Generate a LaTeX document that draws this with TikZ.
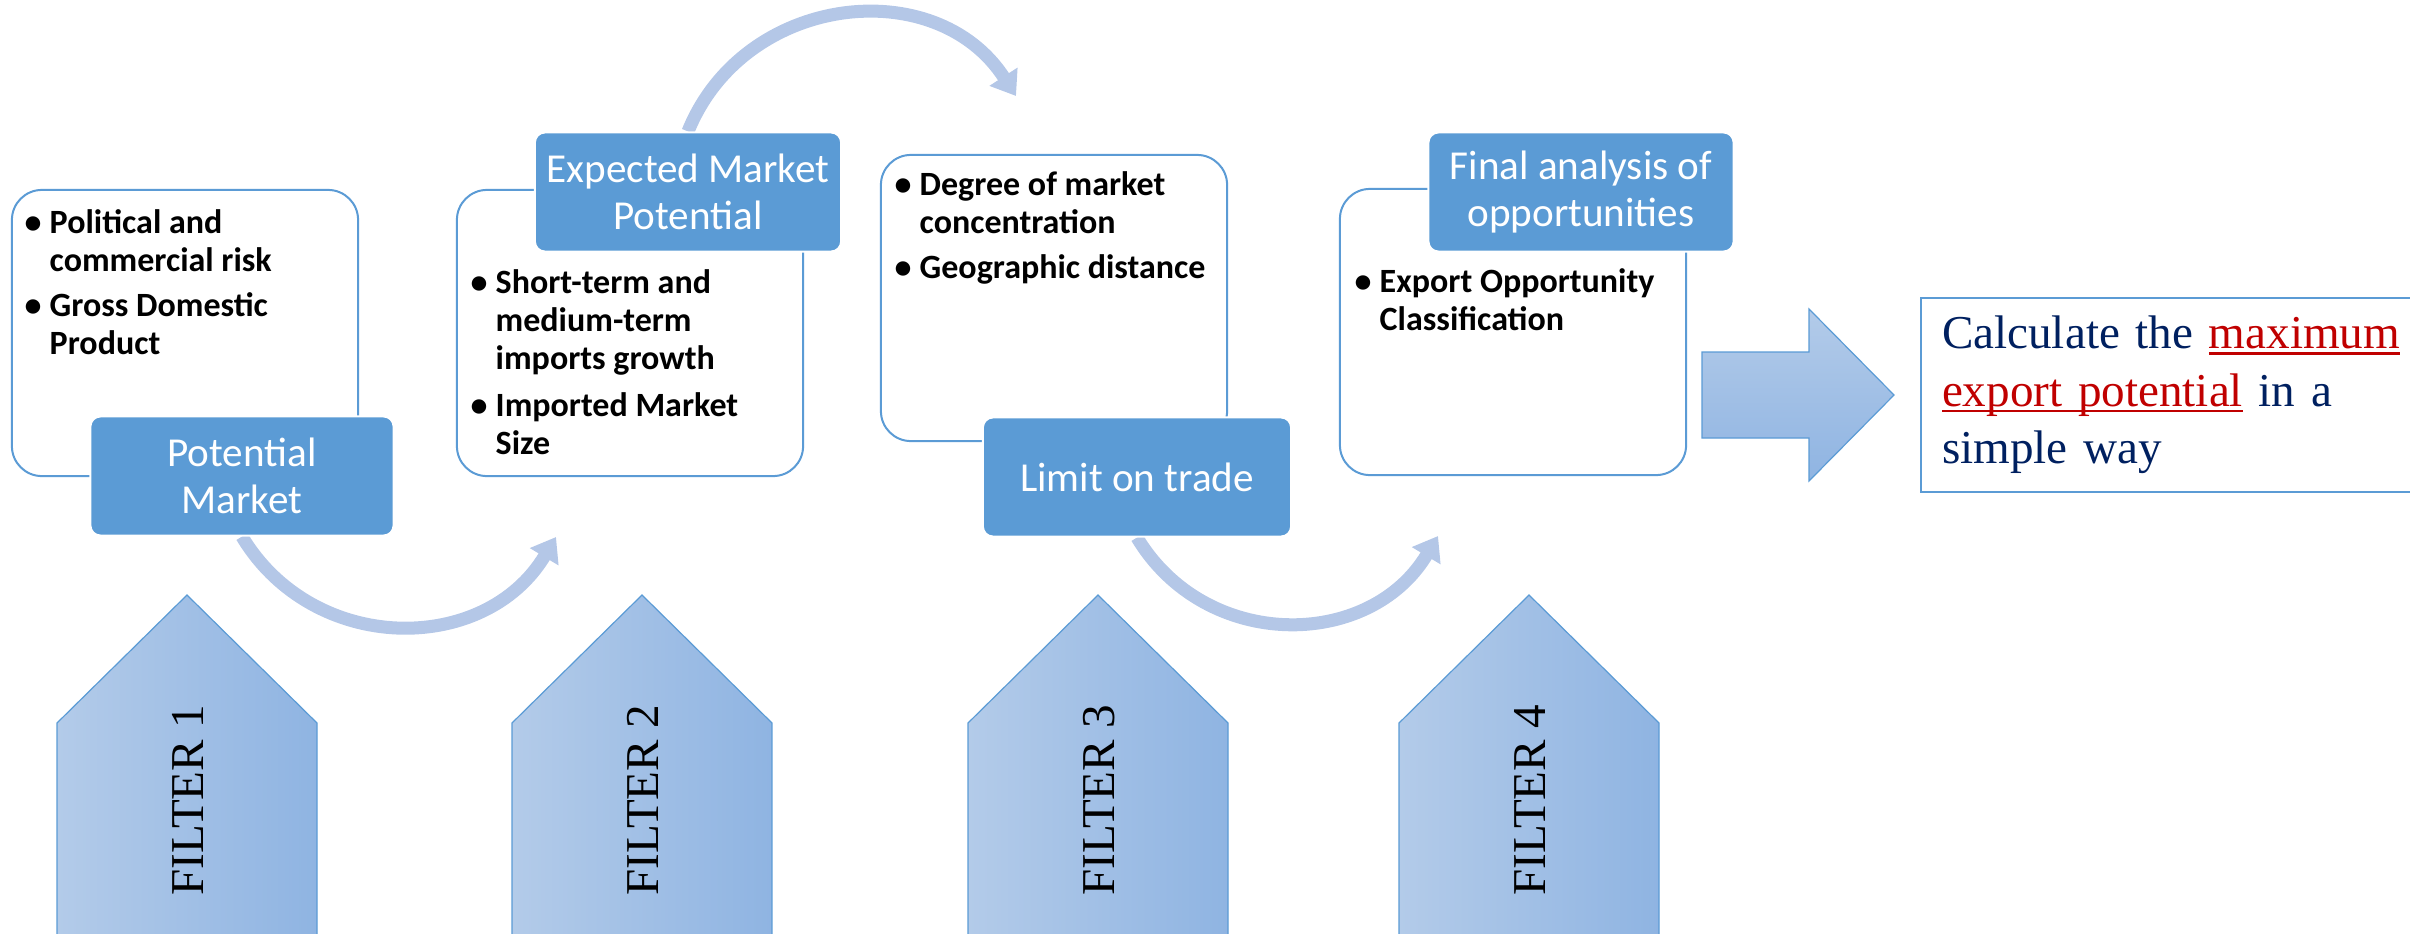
\documentclass[tikz,border=0pt]{standalone}
\usepackage{fontspec}
\setmainfont{Liberation Serif}
\newfontfamily\calibri{Carlito}
\usetikzlibrary{arrows.meta,backgrounds}

\definecolor{hdblue}{HTML}{5B9BD5}
\definecolor{arcblue}{HTML}{B4C7E7}
\definecolor{fltlight}{HTML}{B3CBE9}
\definecolor{fltdark}{HTML}{8FB4E2}
\definecolor{navytxt}{HTML}{002060}
\definecolor{redtxt}{HTML}{C00000}

\newcommand{\bul}{\makebox[0.25cm][l]{\textbullet}}
\newcommand{\ind}{\hspace*{0.25cm}}
\newcommand{\redul}[1]{\leavevmode{\color{redtxt}\setbox0\hbox{#1}\rlap{\rule[-1.7pt]{\wd0}{0.6pt}}\box0}}

\tikzset{
  panel/.style={draw=hdblue, line width=0.02cm, fill=white, rounded corners=0.3cm,
    minimum width=3.46cm, minimum height=2.86cm},
  head/.style={fill=hdblue, draw=white, line width=0.02cm, rounded corners=0.1cm,
    text=white, align=center, minimum height=1.19cm,
    font=\calibri\fontsize{11.7pt}{13.2pt}\selectfont},
  pts/.style={anchor=north west, align=left, inner sep=0pt,
    font=\calibri\bfseries\fontsize{9.67pt}{10.8pt}\selectfont},
  filter/.style={left color=fltlight, right color=fltdark, draw=hdblue, line width=0.012cm},
  blockfill/.style={top color=fltlight, bottom color=fltdark, draw=hdblue, line width=0.012cm},
  flowarc/.style={draw=arcblue, line width=0.13cm, -{Triangle[width=0.32cm,length=0.23cm]}},
}

\begin{document}
\begin{tikzpicture}[x=0.01cm, y=0.01cm]
  \useasboundingbox (0,0) rectangle (2410,-933);

  % filters
  \foreach \fx/\n in {57/1, 512/2, 968/3, 1399/4} {
    \draw[filter] (\fx,-950) -- (\fx,-723) -- (\fx+130,-595) -- (\fx+260,-723) -- (\fx+260,-950) -- cycle;
    \node[rotate=90, font=\fontsize{13.4pt}{16pt}\selectfont] (f\n) at (\fx+131,-800) {FILTER \n};
  }

  % panels
  \node[panel] (p1) at (185,-333) {};
  \node[panel] (p2) at (630,-333) {};
  \node[panel] (p3) at (1054,-298) {};
  \node[panel] (p4) at (1513,-332) {};

  \node[pts] (t1) at (24,-209) {\bul Political and\\ \ind commercial risk\\[2pt] \bul Gross Domestic\\ \ind Product};
  \node[pts] (t2) at (470,-269) {\bul Short-term and\\ \ind medium-term\\ \ind imports growth\\[2.6pt] \bul Imported Market\\ \ind Size};
  \node[pts] (t3) at (894,-171) {\bul Degree of market\\ \ind concentration\\[2pt] \bul Geographic distance};
  \node[pts] (t4) at (1354,-268) {\bul Export Opportunity\\ \ind Classification};

  % headings
  \node[head, minimum width=3.03cm] (l1) at (242,-476) {Potential\\Market};
  \node[head, minimum width=3.02cm] (l2) at (688,-192) {Expected Market\\Potential};
  \node[head, minimum width=3.08cm] (l3) at (1137,-477) {Limit on trade};
  \node[head, minimum width=3.05cm] (l4) at (1581,-192) {Final analysis of\\opportunities};

  % curved arrows
  \coordinate (endA) at (556,-537);
  \coordinate (endB) at (1016,-96);
  \coordinate (endC) at (1438,-536);
  \begin{scope}[on background layer]
    \draw[flowarc] (l1.south) to[out=-59, in=-121, looseness=1.13] (endA);
    \draw[flowarc] (l2.north) to[out=68, in=123, looseness=1.15] (endB);
    \draw[flowarc] (l3.south) to[out=-59, in=-121, looseness=1.13] (endC);
  \end{scope}

  % result
  \draw[blockfill] (1702,-352) -- (1809,-352) -- (1809,-309) -- (1894,-395) -- (1809,-481) -- (1809,-438) -- (1702,-438) -- cycle;
  \node[draw=hdblue, line width=0.02cm, anchor=west, text width=4.9cm, align=left,
    inner xsep=0.21cm, minimum height=1.94cm, text=navytxt,
    font=\fontsize{13.4pt}{16.4pt}\selectfont] (res) at (1920,-395)
    {Calculate the \redul{maximum}\\ \redul{export potential} in a\\ simple way};

\end{tikzpicture}
\end{document}
